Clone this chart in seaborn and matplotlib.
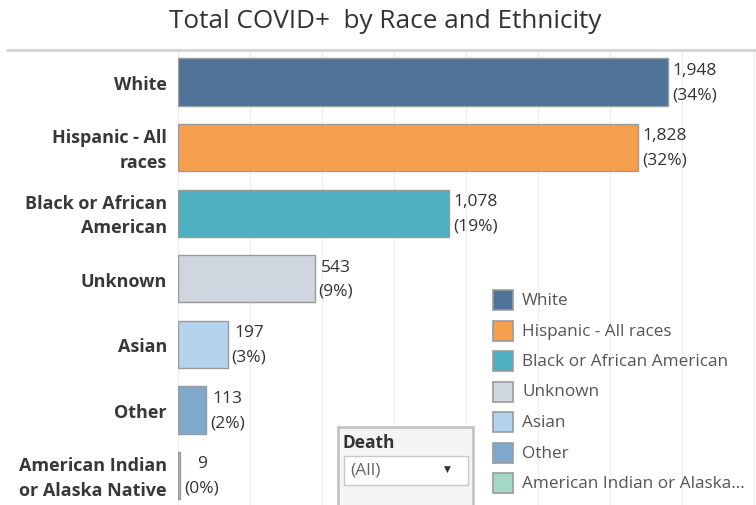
import matplotlib
matplotlib.use("Agg")
import matplotlib.pyplot as plt
import matplotlib.transforms as mtransforms
from matplotlib.patches import Rectangle
from matplotlib.lines import Line2D
import seaborn as sns
import pandas as pd

# Data
categories = ["White", "Hispanic - All races", "Black or African American",
              "Unknown", "Asian", "Other", "American Indian or Alaska Native"]
tick_labels = ["White", "Hispanic - All\nraces", "Black or African\nAmerican",
               "Unknown", "Asian", "Other", "American Indian\nor Alaska Native"]
legend_labels = ["White", "Hispanic - All races", "Black or African American",
                 "Unknown", "Asian", "Other", "American Indian or Alaska..."]
cases = [1948, 1828, 1078, 543, 197, 113, 9]
colors = ["#4e7298", "#f5a04d", "#4eb0c1", "#cfd6df", "#b3d4ec", "#80a8cb", "#a3d8c7"]

df = pd.DataFrame({"race": categories, "cases": cases})
total = sum(cases)

sns.set_theme(style="white")
plt.rcParams["font.family"] = ["Open Sans", "DejaVu Sans"]

W, H = 756, 506
fig = plt.figure(figsize=(W / 100, H / 100), dpi=100)
ax_left, ax_right, ax_top, ax_bottom = 178, 756, 50, 506
ax = fig.add_axes([ax_left / W, 1 - ax_bottom / H,
                   (ax_right - ax_left) / W, (ax_bottom - ax_top) / H])

sns.barplot(data=df, y="race", x="cases", hue="race", palette=colors,
            order=categories, hue_order=categories, orient="h",
            width=0.72, edgecolor="#9a9a9a", linewidth=1.0,
            legend=False, ax=ax, saturation=1)

px_per_unit = 490 / 1948
ax.set_xlim(0, (ax_right - ax_left) / px_per_unit)
ax.set_ylim(6.45, -0.503)

# vertical light gridlines
grid_step = 72 / px_per_unit
for k in range(0, 9):
    ax.axvline(k * grid_step, color="#ededed", lw=1.0, zorder=0)
ax.set_axisbelow(True)

for s in ax.spines.values():
    s.set_visible(False)
ax.set_xticks([])
ax.set_xlabel("")
ax.set_ylabel("")
ax.set_yticks(range(len(categories)))
ax.set_yticklabels(tick_labels, fontsize=13, fontweight="bold",
                   color="#383838", linespacing=1.45, va="center")
ax.tick_params(axis="y", length=0, pad=8)
nudge = mtransforms.ScaledTranslation(0, -2 / 100, fig.dpi_scale_trans)
for lbl in ax.get_yticklabels():
    lbl.set_transform(lbl.get_transform() + nudge)

# value labels with share of total
for i, v in enumerate(cases):
    pct = round(100 * v / total)
    ax.text(v + 4 / px_per_unit, i, f"{v:,}\n({pct}%)", ha="left", va="center",
            multialignment="center", fontsize=12.5, color="#333333",
            linespacing=1.7)

# thin baseline for the tiny bar
ax.plot([0, 0], [6 - 0.36, 6 + 0.36], color="#9a9a9a", lw=1.0)

# title and header rule
fig.text(385 / W, 1 - 22 / H, "Total COVID+  by Race and Ethnicity",
         ha="center", va="center", fontsize=18.8, color="#333333")
fig.add_artist(Line2D([7 / W, 1], [1 - 51 / H, 1 - 51 / H],
                      color="#d3d3d3", lw=2))

# legend
for i, (lab, col) in enumerate(zip(legend_labels, colors)):
    yc = 301 + 30.5 * i
    fig.add_artist(Rectangle((493 / W, 1 - (yc + 10) / H), 20 / W, 20 / H,
                             facecolor=col, edgecolor="#9a9a9a", lw=1.2))
    fig.text(522 / W, 1 - yc / H, lab, ha="left", va="center",
             fontsize=12.3, color="#555555")

# Death filter widget
fig.add_artist(Rectangle((338 / W, 1 - 510 / H), 135 / W, 82 / H,
                         facecolor="#f4f4f4", edgecolor="#c4c4c4", lw=2))
fig.text(343 / W, 1 - 443 / H, "Death", ha="left", va="center",
         fontsize=12.5, fontweight="bold", color="#333333")
fig.add_artist(Rectangle((344 / W, 1 - 486 / H), 124 / W, 29 / H,
                         facecolor="white", edgecolor="#c8c8c8", lw=1))
fig.text(350 / W, 1 - 471 / H, "(All)", ha="left", va="center",
         fontsize=12.5, color="#666666")
fig.text(447 / W, 1 - 469 / H, "\u25BC", ha="center", va="center",
         fontsize=6.5, color="#333333", family="DejaVu Sans")

fig.savefig("out.png", dpi=100)
